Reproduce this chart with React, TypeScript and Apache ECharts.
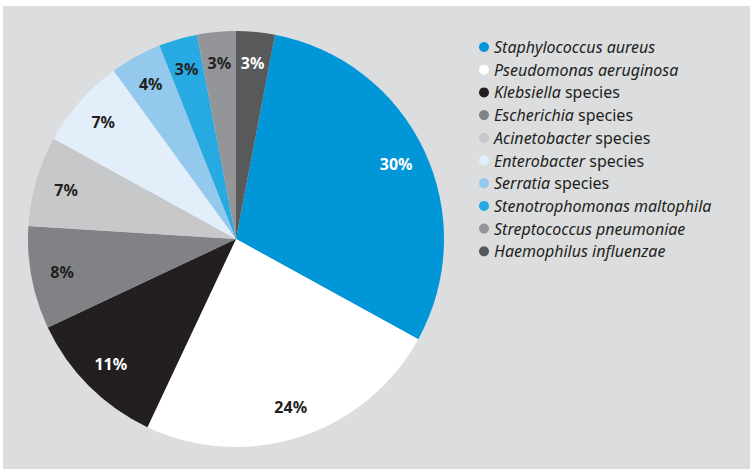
import React, { useEffect, useRef } from "react";
import * as echarts from "echarts";

const italicNames = [
  "Staphylococcus aureus",
  "Pseudomonas aeruginosa",
  "Klebsiella",
  "Escherichia",
  "Acinetobacter",
  "Enterobacter",
  "Serratia",
  "Stenotrophomonas maltophila",
  "Streptococcus pneumoniae",
  "Haemophilus influenzae",
];
const suffixes = ["", "", "species", "species", "species", "species", "species", "", "", ""];
const values = [30, 24, 11, 8, 7, 7, 4, 3, 3, 3];
const colors = [
  "#0096d8",
  "#ffffff",
  "#231f20",
  "#808285",
  "#c7c8ca",
  "#e2eef9",
  "#93c9ec",
  "#27aae1",
  "#939598",
  "#58595b",
];
const labelColors = [
  "#ffffff",
  "#231f20",
  "#ffffff",
  "#231f20",
  "#231f20",
  "#231f20",
  "#231f20",
  "#231f20",
  "#231f20",
  "#ffffff",
];

export default function App() {
  const ref = useRef<HTMLDivElement>(null);
  useEffect(() => {
    const chart = echarts.init(ref.current!, null, { renderer: "svg" });
    const names = italicNames.map((n, i) => (suffixes[i] ? n + " " + suffixes[i] : n));
    const data = names.map((n, i) => ({ name: n, value: values[i], itemStyle: { color: colors[i] } }));
    const total = values.reduce((a, b) => a + b, 0);
    const startAngle = 90 - (values[values.length - 1] / total) * 360;
    const font = "'Noto Sans', sans-serif";
    chart.setOption({
      animation: false,
      graphic: [
        { type: "rect", z: -10, shape: { x: 3, y: 6, width: 747, height: 463 }, style: { fill: "#dcdddf" } },
      ],
      legend: {
        orient: "vertical",
        left: 474,
        top: 33,
        icon: "circle",
        itemWidth: 10,
        itemHeight: 10,
        itemGap: 4.7,
        selectedMode: false,
        data: names,
        formatter: (name: string) => {
          const i = names.indexOf(name);
          return suffixes[i] ? `{i|${italicNames[i]}} {n|${suffixes[i]}}` : `{i|${italicNames[i]}}`;
        },
        textStyle: {
          fontFamily: font,
          fontSize: 16,
          lineHeight: 18,
          color: "#231f20",
          rich: {
            i: { fontStyle: "italic", fontFamily: font, fontSize: 16, lineHeight: 18, color: "#231f20" },
            n: { fontFamily: font, fontSize: 16, lineHeight: 18, color: "#231f20" },
          },
        },
      },
      series: [
        {
          type: "pie",
          center: [236, 239],
          radius: [0, 208],
          startAngle,
          clockwise: true,
          silent: true,
          label: { show: false },
          labelLine: { show: false },
          itemStyle: { borderWidth: 0 },
          data,
        },
        {
          type: "pie",
          center: [236, 239],
          radius: [140, 208],
          startAngle,
          clockwise: true,
          silent: true,
          itemStyle: { color: "rgba(0,0,0,0)", borderWidth: 0 },
          label: {
            show: true,
            position: "inside",
            formatter: "{c}%",
            fontFamily: font,
            fontWeight: "bold",
            fontSize: 16,
          },
          labelLine: { show: false },
          data: names.map((n, i) => ({
            name: n,
            value: values[i],
            label: { color: labelColors[i] },
          })),
        },
      ],
    });
    return () => chart.dispose();
  }, []);
  return (
    <div
      ref={ref}
      style={{ position: "fixed", left: 0, top: 0, width: 750, height: 469, background: "#ffffff" }}
    />
  );
}
